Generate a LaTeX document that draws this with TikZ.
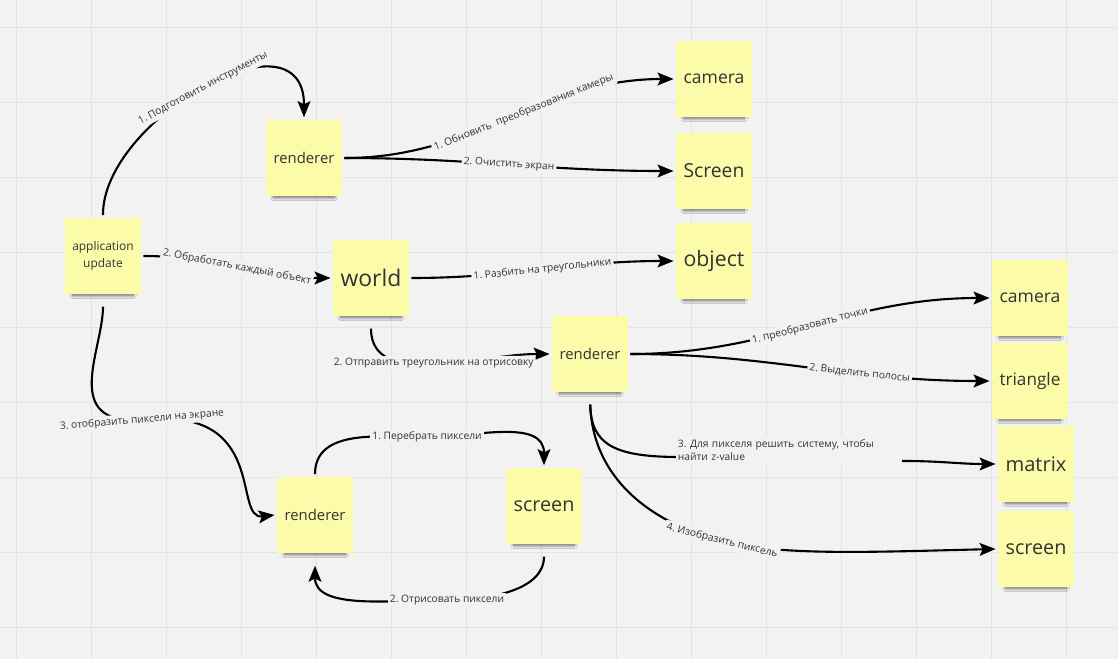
\documentclass[tikz,border=0pt]{standalone}
\usepackage{fontspec}
\setmainfont{Open Sans}
\usepackage{graphicx}
\usetikzlibrary{arrows.meta,shadows.blur}
\definecolor{bgcol}{HTML}{F2F2F2}
\definecolor{gridcol}{HTML}{E3E3E3}
\definecolor{notecol}{HTML}{FBFBA9}
\definecolor{inkcol}{HTML}{333333}
\newcommand{\fitnote}[1]{\resizebox{1.52cm}{!}{#1}}
\frenchspacing

\begin{document}
\begin{tikzpicture}[x=0.025cm, y=-0.025cm,
  note/.style={rectangle, fill=notecol, text=inkcol, minimum width=1.88cm, minimum height=1.9cm,
    inner sep=0pt, outer sep=2pt,
    blur shadow={shadow xshift=0pt, shadow yshift=-8pt, shadow scale=0.8, shadow blur radius=2.8pt, shadow blur steps=12, shadow opacity=60}},
  lbl/.style={fill=bgcol, text=inkcol, inner sep=1.5pt, font=\fontsize{7.3}{8.8}\selectfont},
  conn/.style={line width=1.5pt, -{Stealth[length=4mm,width=3.2mm,inset=0.8mm]}},
  low/.style={shorten <=7pt}]
  \useasboundingbox (0,0) rectangle (1118,659);
  \fill[bgcol] (0,0) rectangle (1118,659);
  % grid
  \foreach \gx in {16,91,...,1066} \draw[gridcol, line width=0.7pt] (\gx,0) -- (\gx,659);
  \foreach \gy in {27,102,...,627} \draw[gridcol, line width=0.7pt] (0,\gy) -- (1118,\gy);

  % sticky notes
  \node[note, align=center, font=\fontsize{8.5}{12}\selectfont] (app) at (103,256) {application\\update};
  \node[note] (rendA) at (304,158) {\fitnote{renderer}};
  \node[note] (world) at (371,278) {\fitnote{world}};
  \node[note] (camA) at (714,79) {\fitnote{camera}};
  \node[note] (scrA) at (714,171) {\fitnote{Screen}};
  \node[note] (obj) at (714,261) {\fitnote{object}};
  \node[note] (rendB) at (590,354) {\fitnote{renderer}};
  \node[note] (camB) at (1030,298) {\fitnote{camera}};
  \node[note] (tri) at (1030,381) {\fitnote{triangle}};
  \node[note] (mat) at (1036,464) {\fitnote{matrix}};
  \node[note] (scrC) at (1036,549) {\fitnote{screen}};
  \node[note] (rendC) at (315,515) {\fitnote{renderer}};
  \node[note] (scrB) at (544,506) {\fitnote{screen}};

  % application update
  \draw[conn] (app.north) .. controls (102,120) and (304,5) .. node[lbl, sloped] (lPrep) {1. Подготовить инструменты} (rendA.north);
  \draw[conn] (app.east) to[out=0,in=180] node[lbl, sloped] (lEach) {2. Обработать каждый объект} (world.west);
  \coordinate (dispL) at (142,420);
  \draw[conn, low] (app.south) .. controls (103,350) and (60,425) .. (dispL) .. controls (270,405) and (232,520) .. (rendC.west);
  \node[lbl, rotate=5] (lDisp) at (dispL) {3. отобразить пиксели на экране};

  % renderer (top)
  \draw[conn] (rendA.east) to[out=0,in=180] node[lbl, sloped, pos=0.55] (lCam) {1. Обновить\ \ преобразования камеры} (camA.west);
  \draw[conn] (rendA.east) to[out=0,in=180] node[lbl, sloped] (lClr) {2. Очистить экран} (scrA.west);

  % world
  \draw[conn] (world.east) to[out=0,in=180] node[lbl, sloped] (lSplit) {1. Разбить на треугольники} (obj.west);
  \draw[conn, low] (world.south) to[out=-90,in=180] node[lbl, sloped] (lSend) {2. Отправить треугольник на отрисовку} (rendB.west);

  % renderer (middle)
  \draw[conn] (rendB.east) to[out=0,in=180] node[lbl, sloped] (lPts) {1. преобразовать точки} (camB.west);
  \draw[conn] (rendB.east) to[out=0,in=180] node[lbl, sloped, pos=0.65] (lStrip) {2. Выделить полосы} (tri.west);
  \coordinate (zIn) at (680,457);
  \coordinate (zOut) at (905,461);
  \draw[conn, low] (rendB.south) .. controls (591,445) and (615,457) .. (zIn) -- (zOut) to[out=0,in=180] (mat.west);
  \node[lbl, align=left, text width=5.55cm, inner ysep=3pt] (lZval) at (789,450) {3. Для пикселя решить систему, чтобы\\найти z-value};
  \coordinate (pixL) at (722,541);
  \draw[conn, low] (rendB.south) .. controls (592,470) and (640,520) .. (pixL) .. controls (780,556) and (870,552) .. (scrC.west);
  \node[lbl, rotate=-14] (lPix) at (pixL) {4. Изобразить пиксель};

  % renderer (bottom) <-> screen
  \coordinate (loopT) at (427,437);
  \coordinate (loopB) at (447,600);
  \draw[conn] (rendC.north) to[out=90,in=180] (loopT) to[out=0,in=90] (scrB.north);
  \node[lbl] (lIter) at (loopT) {1. Перебрать пиксели};
  \draw[conn, low, shorten >=7pt] (scrB.south) to[out=-90,in=0] (loopB) to[out=180,in=-90] (rendC.south);
  \node[lbl] (lDraw) at (loopB) {2. Отрисовать пиксели};
\end{tikzpicture}
\end{document}
